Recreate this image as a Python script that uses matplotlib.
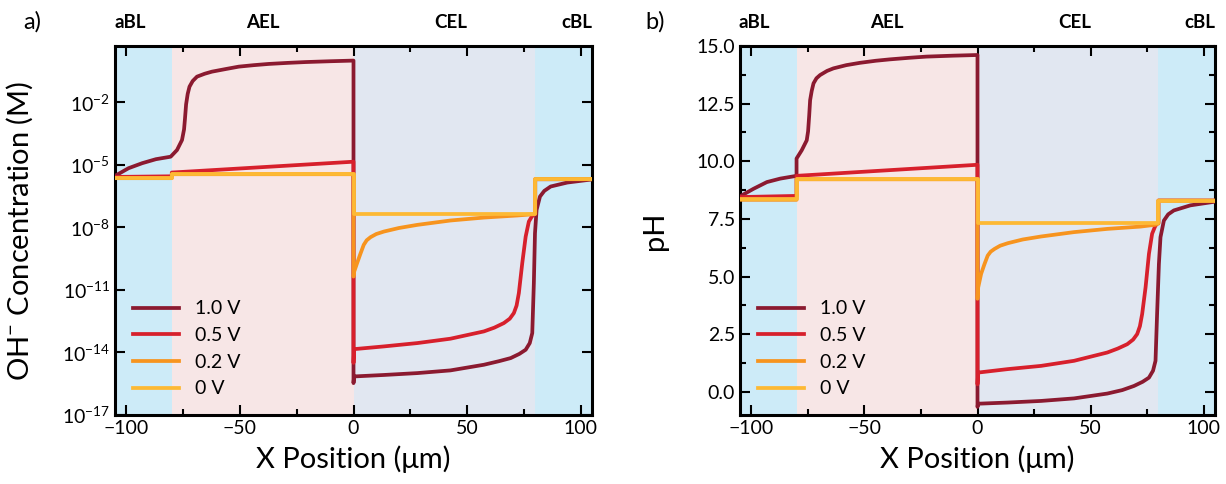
import numpy as np
import matplotlib
matplotlib.use("Agg")
import matplotlib.pyplot as plt

plt.rcParams['font.family'] = ['Lato', 'DejaVu Sans']
plt.rcParams['mathtext.fontset'] = 'custom'
plt.rcParams['mathtext.rm'] = 'Lato'
plt.rcParams['mathtext.it'] = 'Lato:italic'
plt.rcParams['mathtext.bf'] = 'Lato:bold'
plt.rcParams['mathtext.default'] = 'regular'

# layer boundaries and names
regions = [(-105, -80), (-80, 0), (0, 80), (80, 105)]
region_names = ['aBL', 'AEL', 'CEL', 'cBL']
region_label_x = [-98.5, -40, 43, 98.5]
region_colors = ['#cdebf8', '#f7e6e6', '#e1e7f1', '#cdebf8']

voltages = ['1.0 V', '0.5 V', '0.2 V', '0 V']
colors = ['#8b1a30', '#d7202c', '#f7941e', '#fdb934']

# OH- concentration, log10 (M), read off panel a)
conc_x_10 = [-105, -99, -93, -87, -80.5, -77.7, -75.5, -74.6, -74.2, -73.7, -73.0, -72.2, -70.8,
             -68.9, -65.5, -62.3, -56, -50.5, -44, -37.3, -29, -21.1, -10, 0, 0, 0.3, 13.4, 28.1,
             42.7, 57.4, 64, 69.2, 73, 75.8, 77.6, 78.7, 79.4, 79.9, 80.6, 82.1, 84, 86.8, 94.1, 105]
conc_y_10 = [-5.53, -5.16, -4.92, -4.73, -4.61, -4.29, -3.81, -3.30, -2.80, -2.10, -1.60, -1.25, -0.98,
             -0.77, -0.63, -0.53, -0.40, -0.29, -0.22, -0.16, -0.11, -0.07, -0.03, 0.0, -15.47, -15.15,
             -15.08, -14.99, -14.86, -14.59, -14.42, -14.27, -14.07, -13.87, -13.55, -13.07, -10.67, -8.28,
             -7.16, -6.52, -6.25, -6.04, -5.85, -5.70]

conc_x_05 = [-105, -80, -80, 0, 0, 0.3, 13.4, 28.1, 42.7, 57.4, 62, 66.2, 68.8, 70.6, 71.8, 72.8,
             74.3, 75.8, 77.2, 78.4, 79.2, 80, 80, 105]
conc_y_05 = [-5.58, -5.55, -5.37, -4.85, -14.5, -13.84, -13.71, -13.55, -13.34, -12.99, -12.81, -12.59,
             -12.38, -12.11, -11.75, -11.15, -9.71, -8.44, -7.72, -7.50, -7.40, -7.36, -5.69, -5.69]

conc_x_02 = [-105, -80, -80, 0, 0, 0.3, 1.6, 3.0, 4.5, 5.8, 7.5, 10, 13.4, 20, 28.1, 42.7, 57.4,
             72.1, 79.2, 80, 80, 105]
conc_y_02 = [-5.64, -5.64, -5.45, -5.45, -10.36, -10.12, -9.71, -9.28, -8.84, -8.62, -8.47, -8.32,
             -8.20, -8.03, -7.88, -7.67, -7.53, -7.43, -7.37, -7.35, -5.69, -5.69]

conc_x_00 = [-105, -80, -80, 0, 0, 80, 80, 105]
conc_y_00 = [-5.64, -5.64, -5.45, -5.45, -7.35, -7.35, -5.69, -5.69]

# pH, read off panel b)
ph_x_10 = [-105, -99, -93.1, -87.2, -80, -80, -77.7, -75.5, -74.9, -74.4, -74.0, -73.3, -72.5,
           -71.2, -69.6, -66.5, -63.7, -58, -52, -45, -38.8, -30, -22.6, -11, 0, 0, 0.3, 13.4, 28.1,
           42.7, 57.4, 64, 69.2, 73, 75.8, 77.6, 78.7, 79.4, 80.2, 80.9, 82.4, 84.3, 86.8, 94.1, 105]
ph_y_10 = [8.48, 8.81, 9.10, 9.25, 9.37, 10.12, 10.48, 10.91, 11.30, 12.00, 12.65, 13.05, 13.38,
           13.60, 13.74, 13.92, 14.03, 14.17, 14.27, 14.36, 14.42, 14.49, 14.54, 14.58, 14.61, -0.65,
           -0.51, -0.46, -0.39, -0.28, -0.07, 0.08, 0.26, 0.44, 0.62, 0.92, 1.35, 3.38, 5.55, 6.71, 7.43,
           7.70, 7.87, 8.09, 8.25]

ph_x_05 = [-105, -80, -80, 0, 0, 0.3, 13.4, 28.1, 42.7, 57.4, 62, 66.2, 68.8, 70.6, 71.8, 72.8,
           74.3, 75.8, 77.2, 78.4, 79.2, 80, 80, 105]
ph_y_05 = [8.45, 8.50, 9.37, 9.85, 0.33, 0.84, 0.99, 1.13, 1.35, 1.71, 1.88, 2.07, 2.27, 2.51, 2.85,
           3.38, 4.53, 5.99, 6.86, 7.15, 7.29, 7.32, 8.30, 8.30]

ph_x_02 = [-105, -80, -80, 0, 0, 0.3, 1.6, 3.0, 4.5, 5.8, 7.5, 10, 13.4, 20, 28.1, 42.7, 57.4,
           72.1, 78.7, 80, 80, 105]
ph_y_02 = [8.33, 8.33, 9.22, 9.22, 4.04, 4.53, 5.12, 5.52, 5.91, 6.08, 6.20, 6.34, 6.45, 6.61, 6.74,
           6.93, 7.07, 7.17, 7.25, 7.30, 8.30, 8.30]

ph_x_00 = [-105, -80, -80, 0, 0, 80, 80, 105]
ph_y_00 = [8.35, 8.35, 9.22, 9.22, 7.32, 7.32, 8.30, 8.30]

conc_series = [(conc_x_10, conc_y_10), (conc_x_05, conc_y_05),
               (conc_x_02, conc_y_02), (conc_x_00, conc_y_00)]
ph_series = [(ph_x_10, ph_y_10), (ph_x_05, ph_y_05),
             (ph_x_02, ph_y_02), (ph_x_00, ph_y_00)]

fig = plt.figure(figsize=(12.26, 4.84), dpi=100)
ax1 = fig.add_axes([115 / 1226, 1 - 415 / 484, 477 / 1226, 369 / 484])
ax2 = fig.add_axes([740 / 1226, 1 - 415 / 484, 475 / 1226, 369 / 484])


def style_axes(ax):
    for (x0, x1), c in zip(regions, region_colors):
        ax.axvspan(x0, x1, color=c, lw=0, zorder=0)
    for name, xc in zip(region_names, region_label_x):
        ax.text(xc, 1.065, name, transform=ax.get_xaxis_transform(), ha='center', va='center',
                fontsize=13.5, fontweight='bold')
    ax.set_xlim(-105, 105)
    ax.set_xticks([-100, -50, 0, 50, 100])
    ax.set_xticks([-75, -25, 25, 75], minor=True)
    ax.tick_params(which='both', direction='in', top=True, right=True, labelsize=14, width=1.5)
    ax.tick_params(which='major', length=7)
    ax.tick_params(which='minor', length=4)
    for s in ax.spines.values():
        s.set_linewidth(2.2)
    ax.set_xlabel('X Position (\u03bcm)', fontsize=21, labelpad=6)
    ax.legend(loc='lower left', frameon=False, fontsize=14, handlelength=2.4,
              handletextpad=0.8, labelspacing=0.5, borderaxespad=0.5)


for (xs, ys), c, lab in zip(conc_series, colors, voltages):
    ax1.plot(xs, 10.0 ** np.array(ys), color=c, lw=2.7, label=lab, zorder=3)
ax1.set_yscale('log')
ax1.set_ylim(1e-17, 10 ** 0.7)
ax1.yaxis.set_major_locator(matplotlib.ticker.FixedLocator([1e-17, 1e-14, 1e-11, 1e-8, 1e-5, 1e-2]))
ax1.yaxis.set_minor_locator(matplotlib.ticker.NullLocator())
ax1.set_ylabel('OH$^{-}$ Concentration (M)', fontsize=21)
style_axes(ax1)
ax1.yaxis.set_label_coords(-0.168, 0.5)

for (xs, ys), c, lab in zip(ph_series, colors, voltages):
    ax2.plot(xs, ys, color=c, lw=2.7, label=lab, zorder=3)
ax2.set_ylim(-1, 15)
ax2.set_yticks([0, 2.5, 5, 7.5, 10, 12.5, 15])
ax2.set_yticks(np.arange(1.25, 15, 2.5), minor=True)
ax2.yaxis.set_major_formatter(matplotlib.ticker.FormatStrFormatter('%.1f'))
ax2.set_ylabel('pH', fontsize=21)
style_axes(ax2)
ax2.yaxis.set_label_coords(-0.152, 0.5)

fig.text(32 / 1226, 1 - 22 / 484, 'a)', fontsize=17, ha='center', va='center')
fig.text(655 / 1226, 1 - 22 / 484, 'b)', fontsize=17, ha='center', va='center')

fig.savefig('out.png', dpi=100)
